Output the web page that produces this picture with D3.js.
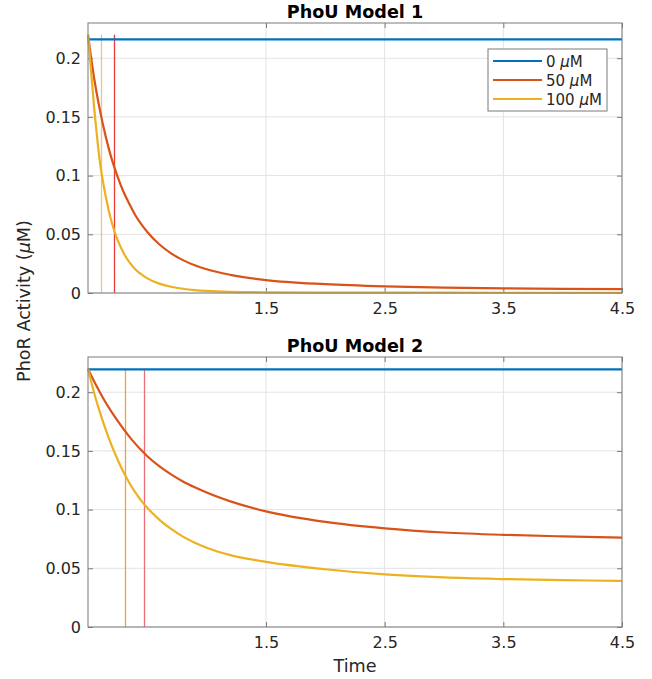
<!DOCTYPE html>
<html>
<head>
<meta charset="utf-8">
<script src="https://cdn.jsdelivr.net/npm/d3@7"></script>
<style>
  body { margin: 0; background: #fff; }
  text { font-family: "DejaVu Sans", sans-serif; fill: #262626; }
</style>
</head>
<body>
<script>
// time samples shared by all curves
var times = [0, 0.05, 0.1, 0.15, 0.2, 0.25, 0.3, 0.35, 0.4, 0.45, 0.5, 0.6, 0.7, 0.8, 0.9, 1.0, 1.2, 1.5, 2.0, 2.5, 3.0, 3.5, 4.0, 4.5];

// model 1
var m1_0 = [0.216, 0.216, 0.216, 0.216, 0.216, 0.216, 0.216, 0.216, 0.216, 0.216, 0.216, 0.216, 0.216, 0.216, 0.216, 0.216, 0.216, 0.216, 0.216, 0.216, 0.216, 0.216, 0.216, 0.216];
var m1_50 = [0.220, 0.184, 0.156, 0.133, 0.114, 0.099, 0.086, 0.0755, 0.066, 0.0585, 0.052, 0.0415, 0.0338, 0.028, 0.0236, 0.0202, 0.0155, 0.011, 0.0075, 0.0056, 0.0045, 0.0039, 0.0035, 0.0033];
var m1_100 = [0.220, 0.160, 0.112, 0.082, 0.060, 0.045, 0.034, 0.026, 0.020, 0.0158, 0.0125, 0.008, 0.0053, 0.0036, 0.0025, 0.0018, 0.001, 0.0006, 0.0004, 0.0003, 0.0003, 0.0002, 0.0002, 0.0002];
var m1_marks = [0.11, 0.215]; // 100 uM, 50 uM

// model 2
var m2_0 = [0.2195, 0.2195, 0.2195, 0.2195, 0.2195, 0.2195, 0.2195, 0.2195, 0.2195, 0.2195, 0.2195, 0.2195, 0.2195, 0.2195, 0.2195, 0.2195, 0.2195, 0.2195, 0.2195, 0.2195, 0.2195, 0.2195, 0.2195, 0.2195];
var m2_50 = [0.220, 0.2095, 0.200, 0.191, 0.183, 0.1755, 0.1685, 0.162, 0.156, 0.1505, 0.1455, 0.137, 0.130, 0.124, 0.119, 0.1145, 0.107, 0.0985, 0.0895, 0.084, 0.0805, 0.0785, 0.0772, 0.0762];
var m2_100 = [0.220, 0.200, 0.183, 0.168, 0.1545, 0.1425, 0.1318, 0.1225, 0.1145, 0.1075, 0.1015, 0.0915, 0.0835, 0.077, 0.0718, 0.0675, 0.0612, 0.0555, 0.0492, 0.0448, 0.0422, 0.0408, 0.0399, 0.0393];
var m2_marks = [0.309, 0.472];

var seriesNames = ["0 \u03bcM", "50 \u03bcM", "100 \u03bcM"];
var colors = ["#0072BD", "#D95319", "#EDB120"];
var xTicks = [1.5, 2.5, 3.5, 4.5];
var yTicks = [0, 0.05, 0.1, 0.15, 0.2];

var width = 652, height = 679;
var svg = d3.select("body").append("svg").attr("width", width).attr("height", height);

var left = 88, right = 622;
var x = d3.scaleLinear().domain([0, 4.5]).range([left, right]);

function drawPanel(title, top, bottom, series, marks, markColors, legend) {
    var y = d3.scaleLinear().domain([0, 0.23]).range([bottom, top]);
    var g = svg.append("g");

    // grid
    g.selectAll(".gx").data(xTicks).enter().append("line")
        .attr("x1", (d) => x(d)).attr("x2", (d) => x(d))
        .attr("y1", top).attr("y2", bottom)
        .attr("stroke", "#e3e3e3").attr("stroke-width", 1);
    g.selectAll(".gy").data(yTicks).enter().append("line")
        .attr("x1", left).attr("x2", right)
        .attr("y1", (d) => y(d)).attr("y2", (d) => y(d))
        .attr("stroke", "#e3e3e3").attr("stroke-width", 1);

    // axes
    var xa = g.append("g").attr("transform", "translate(0," + bottom + ")")
        .call(d3.axisBottom(x).tickValues(xTicks).tickSizeInner(-5).tickSizeOuter(0).tickPadding(10).tickFormat(d3.format(".1f")));
    var xt = g.append("g").attr("transform", "translate(0," + top + ")")
        .call(d3.axisTop(x).tickValues(xTicks).tickSizeInner(-5).tickSizeOuter(0).tickFormat(""));
    var ya = g.append("g").attr("transform", "translate(" + left + ",0)")
        .call(d3.axisLeft(y).tickValues(yTicks).tickSizeInner(-5).tickSizeOuter(0).tickPadding(7).tickFormat((d) => d == 0 ? "0" : d3.format("")(d)));
    var yr = g.append("g").attr("transform", "translate(" + right + ",0)")
        .call(d3.axisRight(y).tickValues(yTicks).tickSizeInner(-5).tickSizeOuter(0).tickFormat(""));
    [xa, xt, ya, yr].forEach(function (a) {
        a.select(".domain").remove();
        a.selectAll(".tick line").attr("stroke", "#7a7a7a");
        a.selectAll(".tick text").style("font-size", "16px").style("font-family", "DejaVu Sans").attr("fill", "#262626");
    });

    // marker lines (half-way times)
    g.selectAll(".mark").data(marks).enter().append("line")
        .attr("x1", (d) => Math.round(x(d)) + 0.5).attr("x2", (d) => Math.round(x(d)) + 0.5)
        .attr("y1", y(0)).attr("y2", y(0.22))
        .attr("stroke", (d, i) => markColors[i]).attr("stroke-width", 1.3);

    // curves
    var line = d3.line().x((d) => x(d[0])).y((d) => y(d[1])).curve(d3.curveMonotoneX);
    series.forEach(function (s, i) {
        g.append("path")
            .datum(times.map((t, j) => [t, s[j]]))
            .attr("d", line)
            .attr("fill", "none")
            .attr("stroke", colors[i])
            .attr("stroke-width", 2.2);
    });

    // frame
    g.append("rect").attr("x", left).attr("y", top)
        .attr("width", right - left).attr("height", bottom - top)
        .attr("fill", "none").attr("stroke", "#7a7a7a").attr("stroke-width", 1);

    g.append("text").attr("x", (left + right) / 2).attr("y", top - 5.5)
        .attr("text-anchor", "middle").style("font-size", "17.6px").style("font-weight", "bold")
        .style("fill", "#000")
        .text(title);

    if (legend) {
        var lg = g.append("g");
        lg.append("rect").attr("x", 488).attr("y", 49).attr("width", 119).attr("height", 62)
            .attr("fill", "#fff").attr("stroke", "#7a7a7a").attr("stroke-width", 1);
        seriesNames.forEach(function (n, i) {
            var yy = 61 + i * 19;
            lg.append("line").attr("x1", 493).attr("x2", 542).attr("y1", yy).attr("y2", yy)
                .attr("stroke", colors[i]).attr("stroke-width", 2.2);
            var parts = n.split(" ");
            var t = lg.append("text").attr("x", 546).attr("y", yy + 5.5).style("font-size", "15px");
            t.append("tspan").text(parts[0] + " ");
            t.append("tspan").style("font-style", "italic").text(parts[1][0]);
            t.append("tspan").text(parts[1].slice(1));
        });
    }
}

drawPanel("PhoU Model 1", 23, 293, [m1_0, m1_50, m1_100], m1_marks, ["#F2C08E", "#EC3A3A"], true);
drawPanel("PhoU Model 2", 357, 627, [m2_0, m2_50, m2_100], m2_marks, ["#F0A040", "#E8707A"], false);

// shared labels
svg.append("text").attr("transform", "translate(30,301) rotate(-90)")
    .attr("text-anchor", "middle").style("font-size", "17.6px")
    .call(function (t) {
        t.append("tspan").text("PhoR Activity (");
        t.append("tspan").style("font-style", "italic").text("\u03bc");
        t.append("tspan").text("M)");
    });
svg.append("text").attr("x", (left + right) / 2).attr("y", 672)
    .attr("text-anchor", "middle").style("font-size", "17.6px").text("Time");
</script>
</body>
</html>
